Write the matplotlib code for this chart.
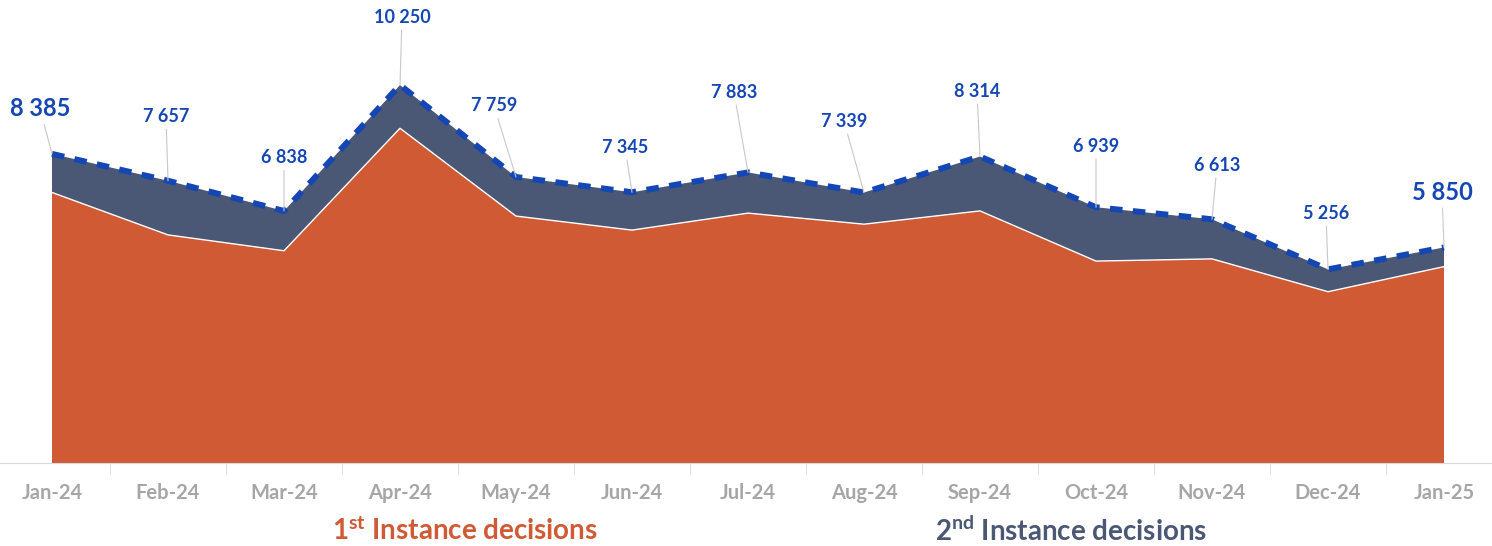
import numpy as np
import matplotlib.pyplot as plt

# -----------------------------
# Data
# -----------------------------
months = ['Jan-24', 'Feb-24', 'Mar-24', 'Apr-24', 'May-24', 'Jun-24', 'Jul-24',
          'Aug-24', 'Sep-24', 'Oct-24', 'Nov-24', 'Dec-24', 'Jan-25']
total_decisions = [8385, 7657, 6838, 10250, 7759, 7345, 7883,
                   7339, 8314, 6939, 6613, 5256, 5850]
first_instance = [7340, 6190, 5760, 9080, 6700, 6320, 6780,
                  6480, 6840, 5480, 5540, 4650, 5330]

second_instance = [t - f for t, f in zip(total_decisions, first_instance)]

# -----------------------------
# Style
# -----------------------------
orange = '#D05A34'
slate = '#4A5875'
blue = '#1446B4'
gray_txt = '#A6A6A6'
font = 'Lato'

plt.rcParams['font.family'] = font
plt.rcParams['mathtext.fontset'] = 'custom'
plt.rcParams['mathtext.rm'] = 'Lato:bold'
plt.rcParams['mathtext.it'] = 'Lato:bold'
plt.rcParams['mathtext.bf'] = 'Lato:bold'

# label offsets (pixels) from data point
label_offsets = [(-12, 45), (-2, 64), (0, 53), (2, 68), (-22, 71), (-7, 45), (-14, 80),
                 (-20, 71), (-3, 65), (0, 61), (5, 54), (-2, 56), (-2, 55)]

W, H = 1492, 546
fig = plt.figure(figsize=(W / 100, H / 100), dpi=100)
base_px = 463.3
ax = fig.add_axes([0, (H - base_px) / H, 1, base_px / H])

x = np.arange(len(months))
ax.stackplot(x, first_instance, second_instance, colors=[orange, slate],
             linewidth=0)
ax.plot(x, first_instance, color='white', lw=1.0)
ax.plot(x, total_decisions, color=blue, lw=4.3, linestyle=(0, (2.1, 1.75)),
        solid_capstyle='butt', dash_capstyle='butt')

px_per_unit = 0.0369
ax.set_xlim(-52 / 116, 12 + 48 / 116)
ax.set_ylim(0, base_px / px_per_unit)

# data labels
for i, (v, off) in enumerate(zip(total_decisions, label_offsets)):
    big = i in (0, len(months) - 1)
    txt = f'{v:,}'.replace(',', ' ')
    ax.annotate(txt, xy=(i, v), xytext=off, textcoords='offset pixels',
                ha='center', va='center', fontsize=17 if big else 13,
                fontweight='bold', color=blue, annotation_clip=False,
                arrowprops=dict(arrowstyle='-', color='#C8C8C8', lw=0.8,
                                shrinkA=1, shrinkB=0))

# axes
for s in ['top', 'right', 'left']:
    ax.spines[s].set_visible(False)
ax.spines['bottom'].set_color('#D9D9D9')
ax.set_yticks([])
ax.set_xticks(x)
ax.set_xticklabels(months, fontsize=14.5, fontweight='bold', color=gray_txt)
ax.tick_params(axis='x', which='major', length=0, pad=14)
ax.set_xticks(np.arange(0.5, 12, 1), minor=True)
ax.tick_params(axis='x', which='minor', length=8, color='#D9D9D9')

# legend-like captions
fig.text(465 / W, 1 - 531 / H, r'1$^{\mathrm{st}}$ Instance decisions',
         ha='center', va='center', fontsize=20, fontweight='bold', color=orange)
fig.text(1071 / W, 1 - 531 / H, r'2$^{\mathrm{nd}}$ Instance decisions',
         ha='center', va='center', fontsize=20, fontweight='bold', color=slate)

fig.savefig('out.png', dpi=100)
